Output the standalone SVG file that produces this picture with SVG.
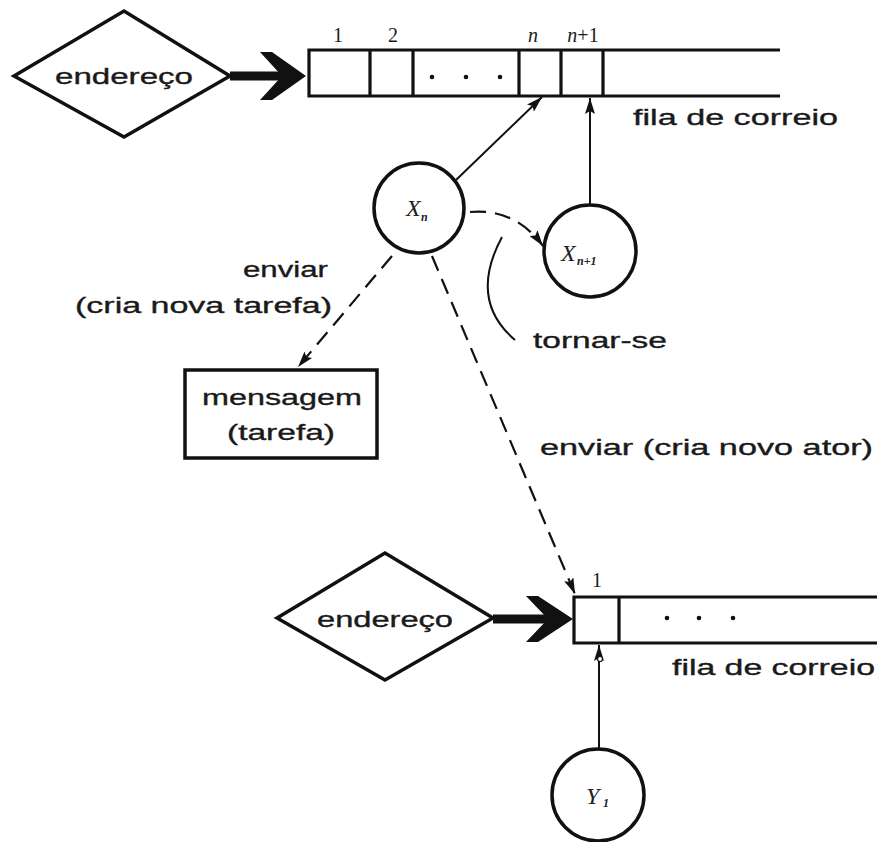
<svg xmlns="http://www.w3.org/2000/svg" width="880" height="842" viewBox="0 0 880 842">
  <defs>
    <style>
      .shape { fill: #fff; stroke: #111; stroke-width: 3.5; stroke-linejoin: miter; }
      .q { fill: none; stroke: #111; stroke-width: 3.2; }
      .thin { fill: none; stroke: #111; stroke-width: 2; }
      .dash { fill: none; stroke: #111; stroke-width: 2.2; stroke-dasharray: 16 9; }
      .shaft { stroke: #111; stroke-width: 9; }
      .lbl { font-family: "Liberation Sans", Arial, sans-serif; font-size: 22px; fill: #1a1a1a; stroke: #1a1a1a; stroke-width: 0.35; }
      .num { font-family: "Liberation Serif", "Times New Roman", serif; font-size: 20px; fill: #1a1a1a; }
      .var { font-family: "Liberation Serif", "Times New Roman", serif; font-style: italic; font-size: 24px; fill: #222; }
      .sub { font-family: "Liberation Serif", "Times New Roman", serif; font-style: italic; font-size: 12px; font-weight: bold; fill: #222; }
      .dot { fill: #111; }
    </style>
    <marker id="arr" viewBox="0 0 16 10" refX="16" refY="5" markerWidth="16" markerHeight="10" markerUnits="userSpaceOnUse" orient="auto">
      <path d="M0,0 L16,5 L0,10 L3,5 Z" fill="#111"/>
    </marker>
  </defs>

  <!-- upper address and mailbox -->
  <g id="endereco-top">
    <polygon class="shape" points="14,76 124,11 230,76 124,137"/>
    <text class="lbl" x="55" y="84" textLength="138" lengthAdjust="spacingAndGlyphs">endereço</text>
  </g>
  <g id="arrow-top">
    <line class="shaft" x1="230" y1="76" x2="290" y2="76"/>
    <polygon fill="#111" points="260,52 272,52 306,76 272,100 260,100 282,76"/>
  </g>
  <g id="fila-top">
    <path class="q" d="M780,50 H309 V96 H780 M370,50 V96 M413,50 V96 M519,50 V96 M561,50 V96 M603,50 V96"/>
    <circle class="dot" cx="432" cy="77" r="2.3"/>
    <circle class="dot" cx="466" cy="77" r="2.3"/>
    <circle class="dot" cx="500" cy="77" r="2.3"/>
    <text class="num" x="338" y="42" text-anchor="middle">1</text>
    <text class="num" x="393" y="42" text-anchor="middle">2</text>
    <text class="num" x="533" y="42" text-anchor="middle" font-style="italic">n</text>
    <text class="num" x="583" y="42" text-anchor="middle"><tspan font-style="italic">n</tspan>+1</text>
    <text class="lbl" x="633" y="125" textLength="205" lengthAdjust="spacingAndGlyphs">fila de correio</text>
  </g>

  <!-- actors -->
  <g id="xn">
    <circle class="shape" cx="419" cy="208" r="45" stroke-width="3"/>
    <text class="var" x="406" y="216">X</text>
    <text class="sub" x="421" y="221">n</text>
  </g>
  <g id="xn1">
    <circle class="shape" cx="590" cy="251" r="46" stroke-width="3"/>
    <text class="var" x="561" y="261">X</text>
    <text class="sub" x="577" y="265">n+1</text>
  </g>
  <g id="mensagem">
    <rect class="shape" x="185" y="370" width="192" height="88"/>
    <text class="lbl" x="202" y="405" textLength="160" lengthAdjust="spacingAndGlyphs">mensagem</text>
    <text class="lbl" x="227" y="440" textLength="108" lengthAdjust="spacingAndGlyphs">(tarefa)</text>
  </g>

  <!-- lower address and mailbox -->
  <g id="endereco-bottom">
    <polygon class="shape" points="277,618 385,553 493,618 385,680"/>
    <text class="lbl" x="317" y="627" textLength="136" lengthAdjust="spacingAndGlyphs">endereço</text>
  </g>
  <g id="arrow-bottom">
    <line class="shaft" x1="493" y1="619" x2="556" y2="619"/>
    <polygon fill="#111" points="526,596 538,596 573,619 538,642 526,642 548,619"/>
  </g>
  <g id="fila-bottom">
    <path class="q" d="M877,597 H574 V643 H877 M619,597 V643"/>
    <circle class="dot" cx="667" cy="618" r="2.3"/>
    <circle class="dot" cx="699" cy="618" r="2.3"/>
    <circle class="dot" cx="733" cy="618" r="2.3"/>
    <text class="num" x="597" y="587" text-anchor="middle">1</text>
    <text class="lbl" x="672" y="675" textLength="203" lengthAdjust="spacingAndGlyphs">fila de correio</text>
  </g>
  <g id="y1">
    <circle class="shape" cx="598" cy="795" r="46" stroke-width="3"/>
    <text class="var" x="586" y="804">Y</text>
    <text class="sub" x="603" y="807">1</text>
  </g>

  <!-- connectors -->
  <g id="connectors">
    <line class="thin" x1="456" y1="180" x2="542" y2="97" marker-end="url(#arr)"/>
    <line class="thin" x1="590" y1="205" x2="590" y2="98" marker-end="url(#arr)"/>
    <path class="dash" d="M470,212 Q515,208 543,246" marker-end="url(#arr)"/>
    <path class="thin" d="M502,237 Q468,300 515,340"/>
    <line class="dash" x1="392" y1="256" x2="298" y2="367" marker-end="url(#arr)"/>
    <line class="dash" x1="432" y1="256" x2="575" y2="594" marker-end="url(#arr)"/>
    <line class="thin" x1="599" y1="750" x2="599" y2="645" marker-end="url(#arr)"/>
    <circle cx="600" cy="659" r="2.5" fill="#fff" stroke="#111" stroke-width="1.2"/>
  </g>

  <!-- connector labels -->
  <g id="labels">
    <text class="lbl" x="243" y="277" textLength="85" lengthAdjust="spacingAndGlyphs">enviar</text>
    <text class="lbl" x="75" y="313" textLength="257" lengthAdjust="spacingAndGlyphs">(cria nova tarefa)</text>
    <text class="lbl" x="533" y="348" textLength="134" lengthAdjust="spacingAndGlyphs">tornar-se</text>
    <text class="lbl" x="540" y="455" textLength="333" lengthAdjust="spacingAndGlyphs">enviar (cria novo ator)</text>
  </g>
</svg>
